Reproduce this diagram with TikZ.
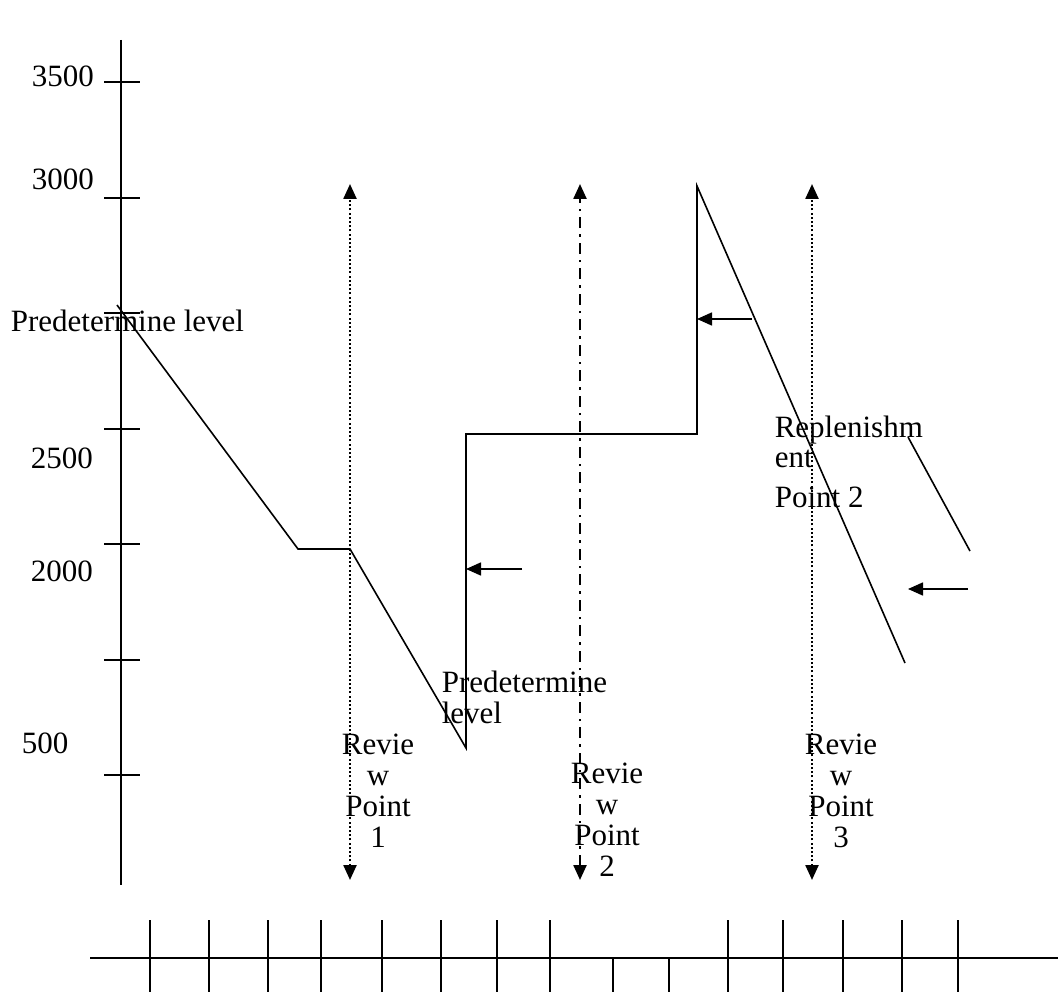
\documentclass[tikz,border=0pt]{standalone}
\usepackage{fontspec}
\setmainfont{Liberation Serif}
\usetikzlibrary{arrows.meta}
\begin{document}
\begin{tikzpicture}[x=1pt,y=-1pt,>={Triangle[width=13pt,length=15pt]},
		line width=1.6pt,
		txt/.style={inner sep=0pt,anchor=base west,font=\fontsize{31}{31}\selectfont},
		rev/.style={inner sep=0pt,anchor=base,align=center,font=\fontsize{31}{31}\selectfont},
		dots/.style={dash pattern=on 2pt off 2.2pt,line width=2.4pt},
		dashdot/.style={dash pattern=on 11pt off 6pt on 2.5pt off 6pt,line width=2.4pt}]
			\useasboundingbox (0,0) rectangle (1058,992);
			% vertical axis and its marks
			\draw (121,40) -- (121,885);
			\foreach \y in {82,198,313,429,544,660,775}
			\draw (104,\y) -- (140,\y);
			\node[txt] at (31,87) {3500};
			\node[txt] at (31,190) {3000};
			\node[txt] at (30,468) {2500};
			\node[txt] at (30,581) {2000};
			\node[txt] at (21,753) {500};
			% stock level
			\draw (117,305) -- (298,549) -- (350,549) -- (466,748)
			-- (466,434) -- (697,434) -- (697,186) -- (905,663);
			\draw (908,437) -- (970,551);
			\draw[->] (522,569) -- (466,569);
			\draw[->] (752,319) -- (697,319);
			\draw[->] (968,589) -- (908,589);
			% review points
			\draw[dots,<->] (350,880) -- (350,184);
			\draw[dashdot,<->] (580,880) -- (580,184);
			\draw[dots,<->] (812,880) -- (812,184);
			\node[rev] (rp1) at (378,847) {Revie\\w\\Point\\1};
			\node[rev] (rp2) at (607,876) {Revie\\w\\Point\\2};
			\node[rev] (rp3) at (841,847) {Revie\\w\\Point\\3};
			% labels
			\node[txt] (pl1) at (10,332) {Predetermine level};
			\node[txt] (pl2) at (441,692) {Predetermine};
			\node[txt] at (441,723) {level};
			\node[txt] (rep) at (774,437) {Replenishm};
			\node[txt] at (774,467) {ent};
			\node[txt] at (774,507) {Point 2};
			% time axis
			\draw (90,958) -- (1058,958);
			\foreach \x in {150,209,268,321,382,441,497,550,728,783,843,902,958}
			\draw (\x,920) -- (\x,992);
			\foreach \x in {613,669}
			\draw (\x,958) -- (\x,992);
		\end{tikzpicture}
\end{document}
